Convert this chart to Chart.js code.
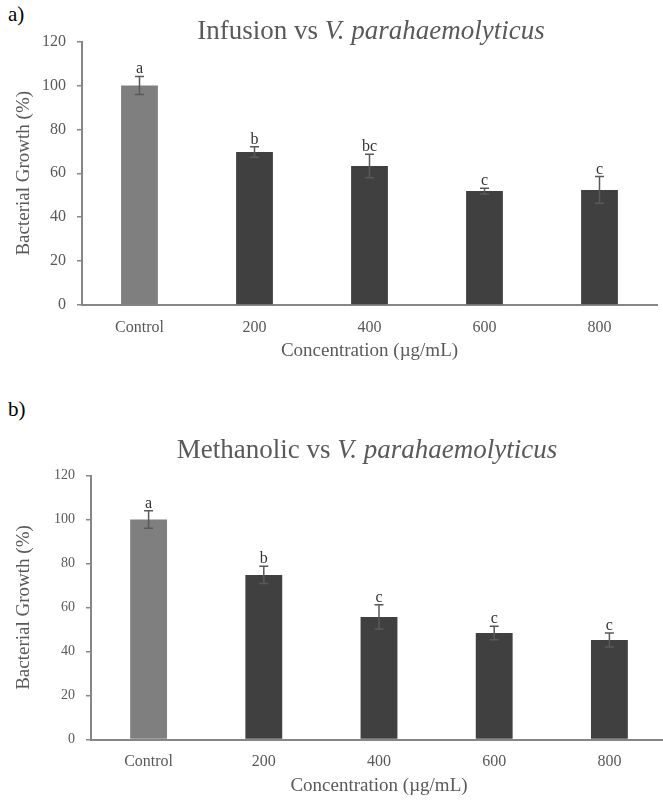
<!DOCTYPE html>
<html>
<head>
<meta charset="utf-8">
<script src="https://cdn.jsdelivr.net/npm/chart.js@4.4.1/dist/chart.umd.min.js"></script>
<style>
    html, body { margin: 0; padding: 0; background: #fff; width: 663px; height: 802px; overflow: hidden; position: relative; }
    canvas { position: absolute; left: 0; }
    .tag { position: absolute; left: 8px; font-family: "Liberation Serif", serif; font-size: 21px; line-height: 21px; color: #000; }
</style>
</head>
<body>
<div class="tag" style="top:4px">a)</div>
<div class="tag" style="top:399px">b)</div>
<canvas id="chartA" width="680" height="380" style="top:0"></canvas>
<canvas id="chartB" width="680" height="422" style="top:380px"></canvas>
<script>
const categories = ['Control', '200', '400', '600', '800'];
const yTicks = [0, 20, 40, 60, 80, 100, 120];

// a) infusion
const infusionMeans = [100, 69.7, 63.3, 51.9, 52.4];
const infusionErrors = [4.1, 2.4, 5.3, 1.3, 6.1];
const infusionLetters = ['a', 'b', 'bc', 'c', 'c'];

// b) methanolic
const methanolMeans = [100, 74.8, 55.7, 48.4, 45.2];
const methanolErrors = [4.0, 3.9, 5.5, 3.1, 3.2];
const methanolLetters = ['a', 'b', 'c', 'c', 'c'];

const SERIF = '"Liberation Serif", "Times New Roman", serif';
const TEXT_GREY = '#595959';
const AXIS_GREY = '#868686';

// error bars + significance letters, placed through the y scale
const errorBarPlugin = {
    id: 'errorBars',
    afterDatasetsDraw(chart, args, opts) {
        const { ctx, scales: { y } } = chart;
        const meta = chart.getDatasetMeta(0);
        const means = chart.data.datasets[0].data;
        ctx.save();
        ctx.strokeStyle = '#595959';
        ctx.lineWidth = 1.5;
        meta.data.forEach((bar, i) => {
            const top = y.getPixelForValue(means[i] + opts.errors[i]);
            const bottom = y.getPixelForValue(means[i] - opts.errors[i]);
            ctx.beginPath();
            ctx.moveTo(bar.x, top); ctx.lineTo(bar.x, bottom);
            ctx.moveTo(bar.x - 4.5, top); ctx.lineTo(bar.x + 4.5, top);
            ctx.moveTo(bar.x - 4.5, bottom); ctx.lineTo(bar.x + 4.5, bottom);
            ctx.stroke();
            ctx.fillStyle = '#333';
            ctx.font = '16px ' + SERIF;
            ctx.textAlign = 'center';
            ctx.textBaseline = 'alphabetic';
            ctx.fillText(opts.letters[i], bar.x, top - 3);
        });
        ctx.restore();
    }
};

// title with an italic species name
const richTitlePlugin = {
    id: 'richTitle',
    afterDraw(chart, args, opts) {
        const { ctx } = chart;
        ctx.save();
        ctx.fillStyle = TEXT_GREY;
        ctx.textBaseline = 'alphabetic';
        ctx.textAlign = 'left';
        const normalFont = '27px ' + SERIF;
        const italicFont = 'italic 27px ' + SERIF;
        ctx.font = normalFont;
        const w1 = ctx.measureText(opts.plain).width;
        ctx.font = italicFont;
        const w2 = ctx.measureText(opts.italic).width;
        let x = opts.x - (w1 + w2) / 2;
        ctx.font = normalFont;
        ctx.fillText(opts.plain, x, opts.y);
        ctx.font = italicFont;
        ctx.fillText(opts.italic, x + w1, opts.y);
        ctx.restore();
    }
};

function makeChart(id, means, errors, letters, title, box) {
    return new Chart(document.getElementById(id), {
        type: 'bar',
        data: {
            labels: categories,
            datasets: [{
                data: means,
                backgroundColor: means.map((v, i) => i === 0 ? '#7f7f7f' : '#404040'),
                categoryPercentage: 1,
                barPercentage: 0.32
            }]
        },
        options: {
            responsive: false,
            animation: false,
            layout: { padding: { left: 0, top: box.top, right: box.right, bottom: 0 } },
            plugins: {
                legend: { display: false },
                tooltip: { enabled: false },
                errorBars: { errors: errors, letters: letters },
                richTitle: title
            },
            scales: {
                x: {
                    afterFit: s => { s.height = box.xHeight; },
                    grid: { display: false },
                    border: { display: true, color: AXIS_GREY, width: 2 },
                    ticks: { color: TEXT_GREY, font: { family: SERIF, size: 16 }, padding: 5 },
                    title: {
                        display: true, text: 'Concentration (µg/mL)', color: TEXT_GREY,
                        font: { family: SERIF, size: 19 }, padding: { top: 0, bottom: box.xTitlePad }
                    }
                },
                y: {
                    min: 0, max: 120,
                    afterFit: s => { s.width = box.left; },
                    afterBuildTicks: s => { s.ticks = yTicks.map(v => ({ value: v })); },
                    grid: { drawOnChartArea: false, drawTicks: true, tickLength: 5, color: AXIS_GREY, lineWidth: 1.5 },
                    border: { display: true, color: AXIS_GREY, width: 2 },
                    ticks: { color: TEXT_GREY, font: { family: SERIF, size: box.yTickSize }, padding: 11 },
                    title: {
                        display: true, text: 'Bacterial Growth (%)', color: TEXT_GREY,
                        font: { family: SERIF, size: 19 }, padding: { top: 13, bottom: 0 }
                    }
                }
            }
        },
        plugins: [errorBarPlugin, richTitlePlugin]
    });
}

makeChart('chartA', infusionMeans, infusionErrors, infusionLetters,
    { plain: 'Infusion vs ', italic: 'V. parahaemolyticus', x: 371, y: 39 },
    { left: 82, top: 41.5, right: 23, xHeight: 75, xTitlePad: 18, yTickSize: 16 });

makeChart('chartB', methanolMeans, methanolErrors, methanolLetters,
    { plain: 'Methanolic vs ', italic: 'V. parahaemolyticus', x: 367, y: 78 },
    { left: 91, top: 95.5, right: 13, xHeight: 62.5, xTitlePad: 5, yTickSize: 14 });
</script>
</body>
</html>
